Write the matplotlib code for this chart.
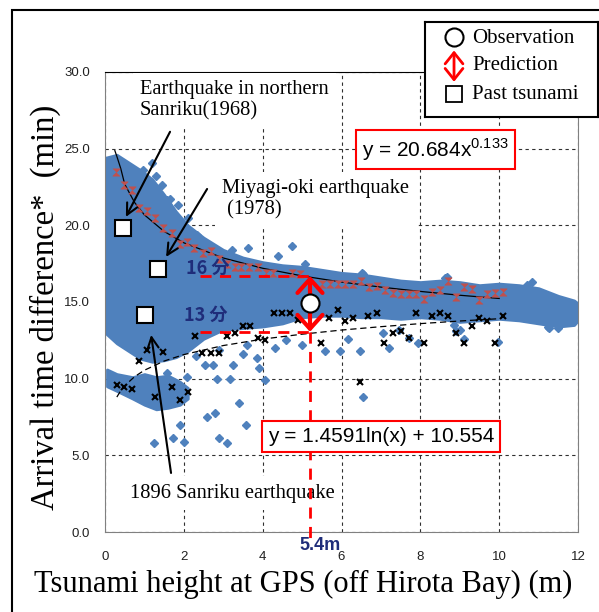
import matplotlib
matplotlib.use("Agg")
import matplotlib.pyplot as plt
from matplotlib.patches import Rectangle

# dense cloud of simulated results, traced as envelope (min)
cloud_x = [0.0, 0.3, 0.6, 0.9, 1.2, 1.5, 1.8, 2.1, 2.5, 3.0, 3.5, 4.0, 4.5, 5.0, 5.5,
           6.0, 6.5, 7.0, 7.5, 8.0, 8.5, 9.0, 9.5, 10.0, 10.5, 11.0, 11.5, 11.9, 12.0]
cloud_top = [24.4, 24.6, 24.1, 23.6, 23.0, 22.0, 20.9, 20.0, 19.2, 18.4, 17.9, 17.6, 17.4, 17.3, 17.1,
             16.9, 16.8, 16.6, 16.4, 16.3, 16.4, 16.3, 16.1, 16.2, 16.1, 15.9, 15.4, 15.1, 14.9]
cloud_bottom = [13.0, 12.3, 11.8, 11.3, 11.1, 11.2, 11.4, 11.8, 12.6, 13.2, 13.3, 13.4, 13.6, 14.0, 14.1,
                14.1, 14.0, 14.0, 13.9, 14.0, 13.9, 13.7, 13.8, 13.9, 13.8, 13.6, 13.4, 13.5, 13.8]

blob_x = [0.05, 0.3, 0.7, 1.0, 1.3, 1.6, 1.9, 2.1]
blob_top = [10.6, 10.3, 10.1, 10.3, 10.1, 10.2, 9.8, 9.4]
blob_bottom = [9.5, 9.2, 8.7, 8.3, 8.0, 8.1, 8.3, 8.7]

# scattered single results outside the cloud
out_x = [1.25, 1.72, 2.0, 1.9, 2.58, 2.79, 2.9, 3.1, 3.4, 3.58, 2.84, 3.17, 2.54, 2.75, 3.25,
         3.5, 3.85, 3.9, 4.06, 2.07, 1.57, 2.3, 2.9, 3.6, 4.3, 4.6, 5.0,
         6.17, 5.58, 5.96, 6.47, 6.55, 7.2, 7.7, 8.85, 9.0, 9.97, 11.25, 7.06, 7.46, 7.94, 8.9, 9.1,
         1.2, 0.97, 1.57, 1.65, 1.73, 2.1, 2.33, 2.34, 3.22, 3.63, 4.4, 4.75, 5.08, 6.52, 6.55,
         8.63, 8.68, 10.7, 10.84, 11.75, 11.98, 11.27, 11.5, 1.3, 1.45, 1.85]
out_y = [5.8, 6.1, 5.9, 7.0, 7.5, 7.75, 6.1, 5.8, 8.4, 7.0, 10.0, 10.0, 10.9, 10.9, 10.9,
         11.6, 11.35, 10.7, 9.9, 10.1, 10.4, 11.5, 11.9, 12.2, 12.0, 12.5, 12.2,
         12.6, 11.8, 11.8, 11.8, 8.8, 12.0, 12.65, 13.5, 13.2, 12.4, 13.4, 12.98, 13.17, 12.33, 13.1, 12.6,
         24.05, 23.6, 21.65, 21.7, 20.55, 20.5, 19.3, 19.4, 18.4, 18.5, 18.0, 18.65, 17.5, 16.9, 16.8,
         16.55, 16.6, 16.1, 16.3, 14.95, 14.0, 13.3, 13.3, 23.2, 22.6, 21.3]

# upper (red) and lower (black) bin values
red_x = [0.28, 0.48, 0.68, 0.87, 1.06, 1.28, 1.48, 1.7, 1.9, 2.07, 2.27, 2.48, 2.69, 2.88, 3.1,
         3.3, 3.45, 3.66, 3.87, 4.08, 4.27, 4.75, 4.95, 5.5, 5.7, 5.9, 6.1, 6.3, 6.5, 6.7,
         6.9, 7.1, 7.3, 7.5, 7.7, 7.9, 8.1, 8.3, 8.5, 8.7, 8.9, 9.1, 9.3, 9.5, 9.7, 9.9, 10.1]
red_y = [23.5, 22.6, 22.3, 21.1, 20.95, 20.5, 19.8, 19.5, 18.8, 18.9, 18.5, 18.2, 18.3, 17.8, 17.5,
         17.3, 17.3, 17.3, 17.3, 16.9, 16.9, 16.9, 16.8, 16.2, 16.2, 16.2, 16.2, 16.2, 16.4, 16.0,
         16.05, 15.8, 15.6, 15.5, 15.5, 15.5, 15.2, 15.65, 15.8, 16.4, 15.3, 16.0, 15.85, 15.1, 15.5, 15.6, 15.65]
blk_x = [0.3, 0.49, 0.68, 0.87, 1.06, 1.27, 1.48, 1.69, 1.9, 2.1, 2.28, 2.47, 2.68, 2.88, 3.09,
         3.3, 3.5, 3.68, 3.87, 4.07, 4.28, 4.48, 4.69, 4.89, 5.48, 5.68, 5.9, 6.1, 6.3, 6.47,
         6.67, 6.9, 7.08, 7.3, 7.5, 7.7, 7.9, 8.1, 8.3, 8.5, 8.7, 8.9, 9.1, 9.3, 9.5, 9.7, 9.9, 10.1]
blk_y = [9.6, 9.45, 9.3, 11.15, 11.9, 8.8, 11.75, 9.45, 8.6, 9.1, 12.8, 11.7, 11.7, 11.7, 12.8,
         13.0, 13.45, 13.45, 12.65, 12.5, 14.3, 14.3, 14.3, 13.8, 12.35, 13.95, 14.5, 13.75, 13.95, 9.8,
         14.1, 14.3, 12.3, 13.0, 13.1, 12.65, 14.3, 12.3, 14.1, 14.3, 14.1, 13.0, 12.3, 13.45, 13.95, 13.75, 12.3, 14.1]

# trend lines
trend_x = [0.25, 0.3, 0.4, 0.5, 0.75, 1, 1.5, 2, 3, 4, 5, 6, 7, 8, 9, 10]
trend_up = [24.87, 24.5, 23.7, 22.68, 21.49, 20.68, 19.60, 18.86, 17.87, 17.20, 16.70, 16.30, 15.97, 15.69, 15.44, 15.23]
trend_lo = [None, 8.80, 9.22, 9.54, 10.13, 10.55, 11.15, 11.57, 12.16, 12.58, 12.90, 13.17, 13.39, 13.59, 13.76, 13.91]

# past tsunami and observation
past_x = [0.45, 1.35, 1.02]
past_y = [19.8, 17.15, 14.15]
obs_x, obs_y = 5.2, 14.95
pred_hi, pred_lo = 16.7, 13.05

BLUE = "#4f81bd"
NAVY = "#1f2d7a"
SERIF = "Liberation Serif"
SANS = "Liberation Sans"

fig = plt.figure(figsize=(5.99, 6.12), dpi=100)
ax = fig.add_axes([0.1753, 0.1307, 0.7897, 0.7517])

ax.fill_between(cloud_x, cloud_bottom, cloud_top, color=BLUE, lw=2, zorder=2)
ax.fill_between(blob_x, blob_bottom, blob_top, color=BLUE, lw=2, zorder=2)
ax.plot(out_x, out_y, "D", color=BLUE, ms=4.5, mec=BLUE, zorder=2)

ax.plot(trend_x, trend_up, color="black", lw=0.9, zorder=3)
ax.plot(trend_x[1:], trend_lo[1:], color="black", lw=0.9, ls=(0, (5, 3)), zorder=3)

hourglass = [(-1, 1), (1, 1), (-1, -1), (1, -1)]
ax.plot(red_x, red_y, ls="none", marker=hourglass, ms=5.2, mew=0.5, color="#c0504d", zorder=4)
ax.plot(blk_x, blk_y, "x", color="black", ms=3.8, mew=1.5, zorder=4)

ax.plot(past_x, past_y, "s", ms=12, mfc="white", mec="black", mew=1.5, zorder=6)

# prediction range
ax.plot([2.4, obs_x], [pred_hi, pred_hi], color="red", lw=2, ls=(0, (4, 3)), zorder=5)
ax.plot([2.4, obs_x], [pred_lo, pred_lo], color="red", lw=2, ls=(0, (4, 3)), zorder=5)
ax.plot([obs_x, obs_x], [pred_lo, -0.6], color="red", lw=2, ls=(0, (4, 3)), zorder=5, clip_on=False)
ax.annotate("", xy=(obs_x, pred_hi), xytext=(obs_x, pred_lo),
            arrowprops=dict(arrowstyle="<->, head_length=0.5, head_width=0.45", color="red",
                            lw=3, mutation_scale=20, shrinkA=0, shrinkB=0), zorder=6)
ax.plot(obs_x, obs_y, "o", ms=13, mfc="white", mec="black", mew=1.5, zorder=7)

ax.text(2.6, 17.2, "16 分", color=NAVY, fontsize=13, fontweight="bold",
        family=["Noto Sans CJK JP", "DejaVu Sans"], ha="center", va="center", zorder=6)
ax.text(2.55, 14.15, "13 分", color=NAVY, fontsize=13, fontweight="bold",
        family=["Noto Sans CJK JP", "DejaVu Sans"], ha="center", va="center", zorder=6)
ax.text(5.46, -0.85, "5.4m", color=NAVY, fontsize=13, fontweight="bold", family=SANS,
        ha="center", va="center", clip_on=False, zorder=6)

# event labels
wbox = dict(boxstyle="square,pad=0.35", facecolor="white", edgecolor="none")
ax.text(0.89, 28.15, "Earthquake in northern\nSanriku(1968)", family=SERIF, fontsize=14.8,
        ha="left", va="center", linespacing=1.2, bbox=wbox, zorder=3)
ax.text(2.97, 21.69, "Miyagi-oki earthquake\n (1978)", family=SERIF, fontsize=14.8,
        ha="left", va="center", linespacing=1.2, bbox=wbox, zorder=3)
ax.text(0.63, 2.54, "1896 Sanriku earthquake", family=SERIF, fontsize=14.8,
        ha="left", va="center", bbox=wbox, zorder=3)

arrow_kw = dict(arrowstyle="->", color="black", lw=1.5, mutation_scale=20, shrinkA=0, shrinkB=0)
ax.annotate("", xy=(0.53, 20.55), xytext=(1.65, 26.1), arrowprops=arrow_kw, zorder=6)
ax.annotate("", xy=(1.55, 17.94), xytext=(2.59, 22.37), arrowprops=arrow_kw, zorder=6)
ax.annotate("", xy=(1.17, 12.85), xytext=(1.675, 3.85), arrowprops=arrow_kw, zorder=6)

# fitted equations
rbox = dict(boxstyle="square,pad=0.3", facecolor="white", edgecolor="red", lw=1.5)
ax.text(8.39, 24.95, r"y = 20.684x$^{\mathregular{0.133}}$", family=SANS, fontsize=15,
        ha="center", va="center", bbox=rbox, zorder=6)
ax.text(7.0, 6.23, "y = 1.4591ln(x) + 10.554", family=SANS, fontsize=15,
        ha="center", va="center", bbox=rbox, zorder=6)

ax.set_xlim(0, 12)
ax.set_ylim(0, 30)
ax.set_xticks(range(0, 13, 2))
ax.set_yticks(range(0, 31, 5))
ax.set_yticklabels([f"{v:.1f}" for v in range(0, 31, 5)])
ax.tick_params(length=0, labelsize=9.5, colors="#202020")
ax.tick_params(axis="x", pad=14)
ax.tick_params(axis="y", pad=11)
for lab in ax.get_xticklabels() + ax.get_yticklabels():
    lab.set_family(SANS)
ax.grid(True, color="#303030", ls=(0, (3, 3)), lw=0.8)
ax.set_axisbelow(True)
for s in ax.spines.values():
    s.set_color("#808080")
ax.spines["top"].set_color("black")

ax.set_xlabel("Tsunami height at GPS (off Hirota Bay) (m)", family=SERIF, fontsize=22)
ax.xaxis.set_label_coords(0.4186, -0.082)
ax.set_ylabel("Arrival time difference*  (min)", family=SERIF, fontsize=23.5)
ax.yaxis.set_label_coords(-0.127, 0.489)
ax.yaxis.label.set_va("center")

# legend drawn as a small box
lg = fig.add_axes([0.7095, 0.809, 0.2885, 0.155])
lg.set_xlim(0, 1)
lg.set_ylim(0, 1)
lg.set_xticks([])
lg.set_yticks([])
for s in lg.spines.values():
    s.set_color("black")
    s.set_linewidth(1.5)
lg.plot(0.168, 0.842, "o", ms=13, mfc="white", mec="black", mew=1.5)
lg.annotate("", xy=(0.168, 0.70), xytext=(0.168, 0.37),
            arrowprops=dict(arrowstyle="<->, head_length=0.5, head_width=0.4", color="red",
                            lw=2, mutation_scale=16, shrinkA=0, shrinkB=0))
lg.plot(0.168, 0.242, "s", ms=12, mfc="white", mec="black", mew=1.3)
lg.text(0.272, 0.83, "Observation", family=SERIF, fontsize=15, va="center")
lg.text(0.272, 0.537, "Prediction", family=SERIF, fontsize=15, va="center")
lg.text(0.272, 0.232, "Past tsunami", family=SERIF, fontsize=15, va="center")

fig.add_artist(Rectangle((0.02, -0.05), 1.2, 1.0337, transform=fig.transFigure,
                         fill=False, lw=1.5, ec="black"))

fig.savefig("out.png", dpi=100)
